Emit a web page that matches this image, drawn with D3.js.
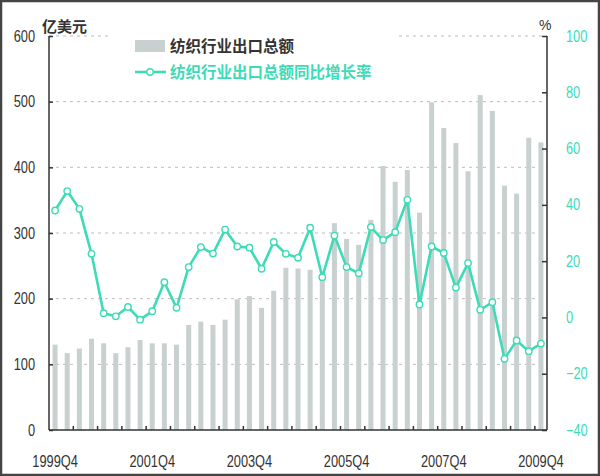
<!DOCTYPE html>
<html><head><meta charset="utf-8">
<script src="https://cdn.jsdelivr.net/npm/d3@7/dist/d3.min.js"></script>
<style>
html,body{margin:0;padding:0;background:#fff;}
svg{display:block;}
.num{font-family:'Liberation Sans',Arial,sans-serif;}
.cjk{font-family:'Noto Sans CJK SC',sans-serif;}
</style></head>
<body>
<svg id="c" width="600" height="476"></svg>
<script>
// ---- data ----
const quarters = [];
for (let y = 1999; y <= 2009; y++) for (let q = 1; q <= 4; q++) {
  if (y === 1999 && q < 4) continue;
  if (y === 2009 && q > 4) continue;
  quarters.push(y + "Q" + q);
}
const exportValue = [130,117,124,139,132,117,126,137,132,132,130,160,165,160,168,
  199,204,186,212,247,246,244,232,315,291,282,320,402,378,
  396,331,499,460,437,394,510,486,372,360,445,438];
const growthRate = [38.0,44.9,38.6,22.6,1.5,0.4,3.7,-0.8,2.2,12.5,3.4,17.9,25,22.7,31.2,
  25.2,24.8,17.3,26.8,22.6,21.2,31.9,14.3,29.1,17.9,15.7,32.1,27.5,30.3,
  41.8,4.6,25.2,22.9,10.6,19.3,2.7,5.4,-14.7,-8.2,-12,-9.3];
const leftTicks = [0,100,200,300,400,500,600];
const rightTicks = [-40,-20,0,20,40,60,80,100];
const xLabels = ["1999Q4","2001Q4","2003Q4","2005Q4","2007Q4","2009Q4"];
const seriesNames = ["纺织行业出口总额","纺织行业出口总额同比增长率"];
const leftUnit = "亿美元", rightUnit = "%";

// ---- layout ----
const L = 49, R = 547, T = 36, B = 430;
const teal = "#3ddbb6", barColor = "#c8d0d0", axisColor = "#333";
const svg = d3.select("#c");

svg.append("rect").attr("x",1).attr("y",1).attr("width",598).attr("height",474)
  .attr("fill","#fff").attr("stroke","#444").attr("stroke-width",2.5);

const x = d3.scaleBand().domain(quarters).range([L, R]).paddingInner(0).paddingOuter(0);
const yL = d3.scaleLinear().domain([0,600]).range([B, T]);
const yR = d3.scaleLinear().domain([-40,100]).range([B, T]);
const cx = q => x(q) + x.bandwidth()/2;

// gridlines
svg.append("g").selectAll("line").data(leftTicks.filter(d=>d>0)).join("line")
  .attr("x1",L).attr("x2",R).attr("y1",d=>yL(d)).attr("y2",d=>yL(d))
  .attr("stroke","#bdbdbd").attr("stroke-width",1).attr("stroke-dasharray","3,4");

// bars
const bw = 5;
svg.append("g").selectAll("rect").data(exportValue).join("rect")
  .attr("x",(d,i)=>cx(quarters[i]) - bw/2).attr("width",bw)
  .attr("y",d=>yL(d)).attr("height",d=>B - yL(d))
  .attr("fill",barColor);

// line
const line = d3.line().x((d,i)=>cx(quarters[i])).y(d=>yR(d));
svg.append("path").datum(growthRate).attr("d",line)
  .attr("fill","none").attr("stroke",teal).attr("stroke-width",2.6)
  .attr("stroke-linejoin","round");
svg.append("g").selectAll("circle").data(growthRate).join("circle")
  .attr("cx",(d,i)=>cx(quarters[i])).attr("cy",d=>yR(d)).attr("r",3.2)
  .attr("fill","#fff").attr("stroke",teal).attr("stroke-width",1.4);

function narrow(sel){
  sel.each(function(){
    const w = this.getComputedTextLength();
    if (w > 0) d3.select(this).attr("textLength", w*0.8).attr("lengthAdjust","spacingAndGlyphs");
  });
}

// axes
const axL = d3.axisLeft(yL).tickValues(leftTicks).tickSize(-4).tickPadding(14);
const gL = svg.append("g").attr("transform",`translate(${L},0)`).call(axL);
gL.select(".domain").attr("stroke",axisColor).attr("stroke-width",1.5).attr("d",`M0,${T}V${B}`);
gL.selectAll(".tick line").attr("stroke",axisColor).attr("stroke-width",1.5);
gL.selectAll("text").attr("class","num").attr("font-size",16).attr("fill","#333").call(narrow);

const axR = d3.axisRight(yR).tickValues(rightTicks).tickSize(-5).tickPadding(19);
const gR = svg.append("g").attr("transform",`translate(${R},0)`).call(axR);
gR.select(".domain").attr("stroke",axisColor).attr("stroke-width",1.5).attr("d",`M0,${T}V${B}`);
gR.selectAll(".tick line").attr("stroke",axisColor).attr("stroke-width",1.5);
gR.selectAll("text").attr("class","num").attr("font-size",16).attr("fill",teal).call(narrow);

const tickQs = quarters.filter((q,i)=>i%2===1 && i<quarters.length-1);
const axB = d3.axisBottom(x).tickValues(quarters).tickSize(0).tickPadding(26)
  .tickFormat(q => xLabels.includes(q) ? q : "");
const gB = svg.append("g").attr("transform",`translate(0,${B})`).call(axB);
gB.select(".domain").attr("stroke",axisColor).attr("stroke-width",1.5).attr("d",`M${L},0H${R}`);
gB.selectAll("text").attr("class","num").attr("font-size",16).attr("fill","#333").call(narrow);
gB.append("g").selectAll("line").data(tickQs).join("line")
  .attr("x1",q=>x(q)+x.bandwidth()).attr("x2",q=>x(q)+x.bandwidth())
  .attr("y1",0).attr("y2",-4).attr("stroke",axisColor).attr("stroke-width",1.5);

// units
svg.append("text").attr("class","cjk").attr("x",42).attr("y",32).attr("font-size",15)
  .attr("font-weight","bold").attr("fill","#333").text(leftUnit);
svg.append("text").attr("class","num").attr("x",539).attr("y",30).attr("font-size",14)
  .attr("fill","#333").text(rightUnit);

// legend
const lg = svg.append("g");
lg.append("rect").attr("x",110).attr("y",30).attr("width",288).attr("height",56).attr("fill","#fff");
lg.append("rect").attr("x",135).attr("y",40).attr("width",30).attr("height",12).attr("fill",barColor);
lg.append("text").attr("class","cjk").attr("x",170).attr("y",52).attr("font-size",15.5)
  .attr("font-weight","bold").attr("fill","#333").text(seriesNames[0]);
lg.append("line").attr("x1",135).attr("x2",166).attr("y1",72).attr("y2",72)
  .attr("stroke",teal).attr("stroke-width",2.6);
lg.append("circle").attr("cx",150).attr("cy",72).attr("r",3.2).attr("fill","#fff")
  .attr("stroke",teal).attr("stroke-width",1.4);
lg.append("text").attr("class","cjk").attr("x",170).attr("y",78).attr("font-size",15.5)
  .attr("font-weight","bold").attr("fill",teal).text(seriesNames[1]);
</script>
</body></html>
